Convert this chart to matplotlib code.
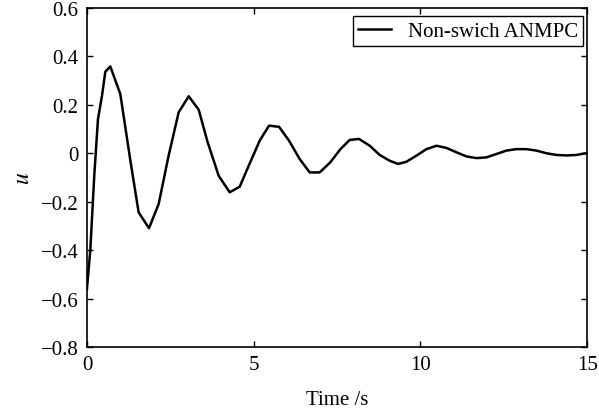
import numpy as np
import matplotlib
matplotlib.use('Agg')
import matplotlib.pyplot as plt

# control input of the non-switching ANMPC controller
time_s = [0.0, 0.1, 0.22, 0.33, 0.45, 0.55, 0.7, 1.0, 1.3, 1.55, 1.86, 2.15,
          2.45, 2.75, 3.05, 3.35, 3.62, 3.95, 4.28, 4.58, 4.83, 5.18, 5.46,
          5.76, 6.06, 6.38, 6.68, 6.98, 7.3, 7.6, 7.88, 8.16, 8.48, 8.78,
          9.08, 9.33, 9.58, 9.88, 10.18, 10.48, 10.78, 11.08, 11.38, 11.68,
          11.98, 12.28, 12.58, 12.88, 13.18, 13.48, 13.78, 14.08, 14.38,
          14.68, 15.0]
u = [-0.56, -0.40, -0.09, 0.14, 0.236, 0.335, 0.357, 0.243, -0.03, -0.245,
     -0.31, -0.21, -0.01, 0.168, 0.234, 0.179, 0.044, -0.094, -0.162,
     -0.139, -0.059, 0.051, 0.113, 0.108, 0.051, -0.025, -0.08, -0.08,
     -0.038, 0.016, 0.054, 0.058, 0.03, -0.008, -0.032, -0.045, -0.036,
     -0.011, 0.016, 0.03, 0.021, 0.003, -0.014, -0.021, -0.018, -0.004,
     0.01, 0.016, 0.016, 0.01, -0.001, -0.008, -0.01, -0.008, 0.0]

xticks = [0, 5, 10, 15]
yticks = [-0.8, -0.6, -0.4, -0.2, 0, 0.2, 0.4, 0.6]
ytick_labels = ['\u22120.8', '\u22120.6', '\u22120.4', '\u22120.2', '0', '0.2', '0.4', '0.6']

plt.rcParams['font.family'] = ['Liberation Serif', 'DejaVu Serif']
plt.rcParams['mathtext.fontset'] = 'stix'

fig = plt.figure(figsize=(5.99, 4.14), dpi=100)
ax = fig.add_axes([0.1452, 0.1594, 0.835, 0.82])

ax.plot(time_s, u, color='black', linewidth=1.8, label='Non-swich ANMPC')

ax.set_xlim(0, 15)
ax.set_ylim(-0.8, 0.6)
ax.set_xticks(xticks)
ax.set_xticklabels([str(t) for t in xticks])
ax.set_yticks(yticks)
ax.set_yticklabels(ytick_labels)
ax.tick_params(direction='in', top=True, right=True, length=4, width=1,
               labelsize=15, pad=6)
for sp in ax.spines.values():
    sp.set_linewidth(1.2)

ax.set_xlabel('Time /s', fontsize=15, labelpad=11)
ax.set_ylabel('$u$', fontsize=17, labelpad=5)

# legend box sits just inside the top-right corner
leg = ax.legend(loc='upper right', bbox_to_anchor=(0.992, 0.975),
                borderaxespad=0, fontsize=15, fancybox=False, framealpha=1,
                edgecolor='black', borderpad=0.25, handlelength=1.6,
                handletextpad=0.8)
leg.get_frame().set_linewidth(1.0)

fig.savefig('out.png', dpi=100)
